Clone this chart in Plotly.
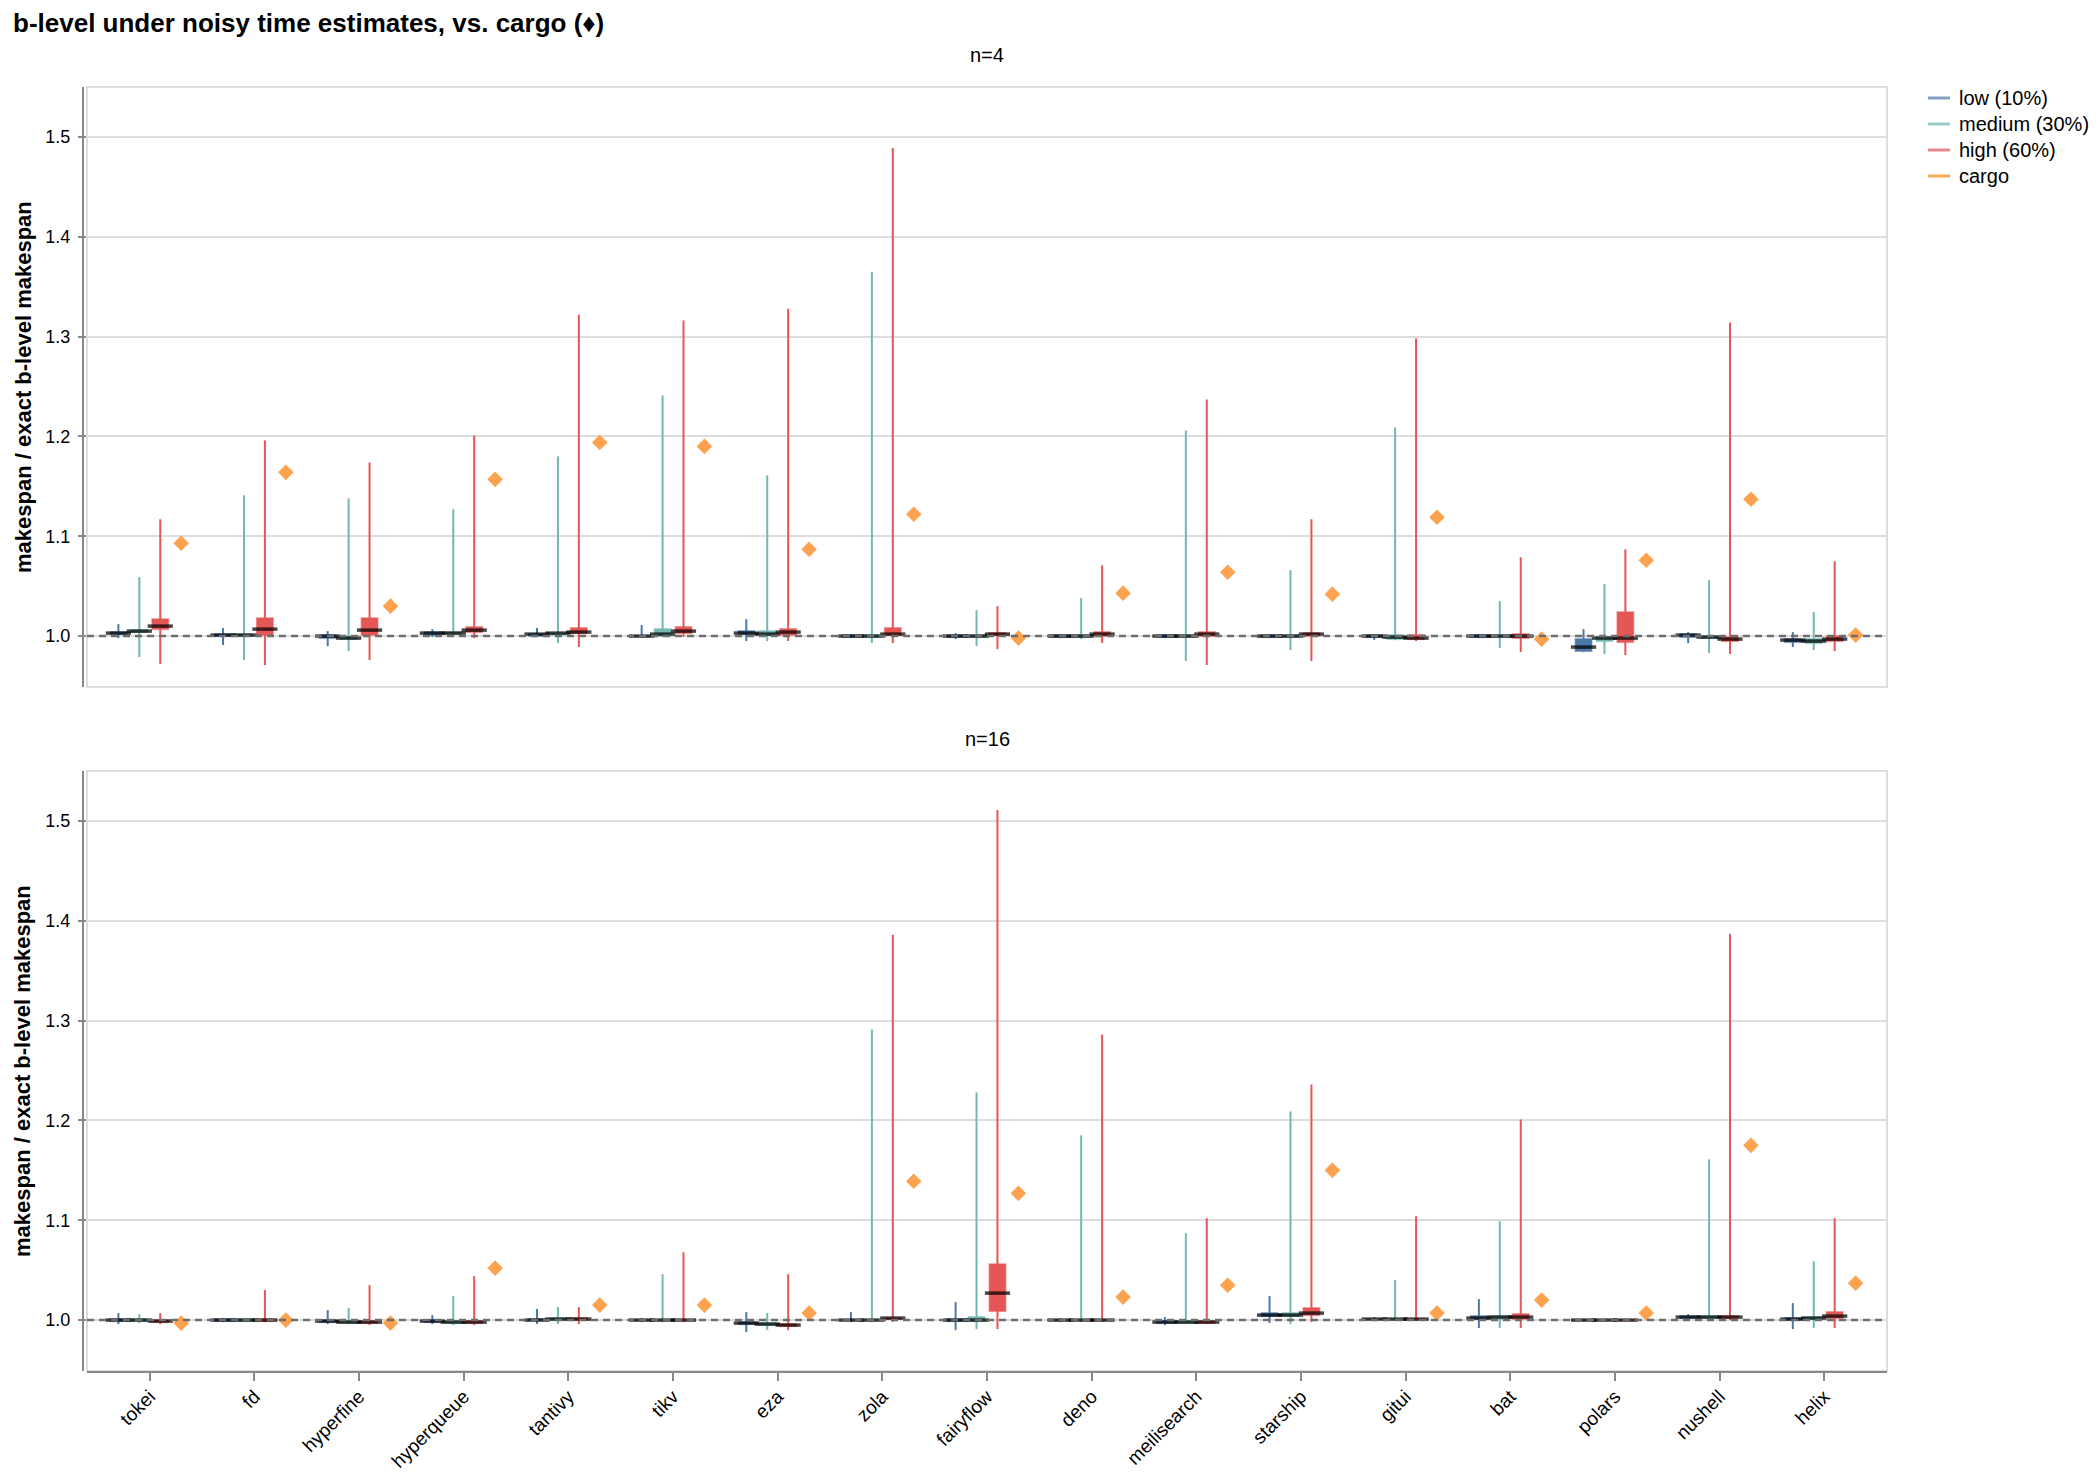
import plotly.graph_objects as go

projects = ["tokei", "fd", "hyperfine", "hyperqueue", "tantivy", "tikv", "eza", "zola",
            "fairyflow", "deno", "meilisearch", "starship", "gitui", "bat", "polars",
            "nushell", "helix"]

levels = ["low (10%)", "medium (30%)", "high (60%)"]

# each entry: (whisker low, q1, median, q3, whisker high) of makespan / exact b-level makespan
n4_low = [(0.998, 1.001, 1.003, 1.005, 1.012), (0.991, 0.999, 1.001, 1.003, 1.008),
          (0.990, 0.997, 1.000, 1.002, 1.005), (0.999, 1.000, 1.003, 1.005, 1.007),
          (0.999, 0.999, 1.002, 1.003, 1.008), (0.999, 0.999, 1.000, 1.001, 1.011),
          (0.995, 1.001, 1.003, 1.006, 1.017), (0.998, 0.998, 1.000, 1.002, 1.002),
          (0.997, 0.998, 1.000, 1.002, 1.003), (0.998, 0.998, 1.000, 1.002, 1.002),
          (0.998, 0.998, 1.000, 1.002, 1.002), (0.998, 0.998, 1.000, 1.002, 1.002),
          (0.996, 0.998, 1.000, 1.002, 1.002), (0.998, 0.998, 1.000, 1.002, 1.002),
          (0.984, 0.984, 0.989, 0.998, 1.007), (0.993, 0.998, 1.001, 1.003, 1.004),
          (0.989, 0.993, 0.996, 0.998, 1.004)]
n4_medium = [(0.979, 1.003, 1.005, 1.007, 1.059), (0.976, 0.999, 1.001, 1.003, 1.141),
             (0.985, 0.996, 0.998, 1.001, 1.138), (1.000, 1.001, 1.003, 1.005, 1.127),
             (0.993, 1.000, 1.003, 1.004, 1.180), (0.999, 0.999, 1.002, 1.008, 1.241),
             (0.995, 1.000, 1.002, 1.006, 1.161), (0.993, 0.998, 1.000, 1.002, 1.365),
             (0.990, 0.998, 1.000, 1.002, 1.026), (0.997, 0.998, 1.000, 1.002, 1.038),
             (0.975, 0.998, 1.000, 1.002, 1.206), (0.986, 0.998, 1.000, 1.002, 1.066),
             (0.996, 0.996, 0.999, 1.002, 1.209), (0.988, 0.998, 1.000, 1.002, 1.035),
             (0.982, 0.994, 0.998, 1.000, 1.052), (0.983, 0.997, 0.999, 1.001, 1.056),
             (0.986, 0.992, 0.995, 0.998, 1.024)]
n4_high = [(0.972, 1.006, 1.010, 1.018, 1.117), (0.971, 1.000, 1.007, 1.019, 1.196),
           (0.976, 1.000, 1.006, 1.019, 1.174), (0.998, 1.003, 1.006, 1.010, 1.201),
           (0.989, 1.002, 1.004, 1.009, 1.322), (0.999, 1.002, 1.005, 1.010, 1.316),
           (0.995, 1.000, 1.004, 1.008, 1.328), (0.993, 1.000, 1.002, 1.009, 1.489),
           (0.987, 1.000, 1.002, 1.004, 1.030), (0.993, 0.999, 1.002, 1.005, 1.071),
           (0.971, 0.999, 1.002, 1.005, 1.237), (0.975, 0.999, 1.002, 1.004, 1.117),
           (0.995, 0.996, 0.998, 1.002, 1.298), (0.984, 0.997, 1.000, 1.003, 1.079),
           (0.981, 0.993, 0.998, 1.025, 1.087), (0.982, 0.994, 0.997, 1.000, 1.314),
           (0.985, 0.994, 0.997, 1.001, 1.075)]
n4_cargo = [1.093, 1.164, 1.030, 1.157, 1.194, 1.190, 1.087, 1.122, 0.998, 1.043,
            1.064, 1.042, 1.119, 0.997, 1.076, 1.137, 1.001]

n16_low = [(0.996, 0.998, 1.000, 1.002, 1.007), (0.998, 0.998, 1.000, 1.002, 1.002),
           (0.996, 0.997, 0.999, 1.001, 1.010), (0.996, 0.997, 0.999, 1.001, 1.005),
           (0.996, 0.999, 1.000, 1.002, 1.011), (0.998, 0.999, 1.000, 1.001, 1.002),
           (0.988, 0.995, 0.997, 0.999, 1.008), (0.998, 0.999, 1.000, 1.001, 1.008),
           (0.990, 0.998, 1.000, 1.002, 1.018), (0.998, 0.999, 1.000, 1.001, 1.002),
           (0.995, 0.996, 0.998, 1.000, 1.003), (0.997, 1.003, 1.005, 1.008, 1.024),
           (0.999, 1.000, 1.001, 1.002, 1.003), (0.992, 1.000, 1.002, 1.005, 1.021),
           (0.999, 0.999, 1.000, 1.001, 1.001), (1.000, 1.001, 1.003, 1.005, 1.006),
           (0.991, 0.999, 1.001, 1.003, 1.017)]
n16_medium = [(0.997, 0.998, 1.000, 1.002, 1.006), (0.998, 0.998, 1.000, 1.002, 1.002),
              (0.996, 0.996, 0.998, 1.000, 1.012), (0.995, 0.996, 0.998, 1.000, 1.024),
              (0.996, 0.999, 1.001, 1.003, 1.013), (0.998, 0.999, 1.000, 1.001, 1.046),
              (0.990, 0.994, 0.996, 0.998, 1.007), (0.998, 0.999, 1.000, 1.001, 1.291),
              (0.991, 0.998, 1.000, 1.004, 1.228), (0.998, 0.999, 1.000, 1.001, 1.185),
              (0.996, 0.996, 0.998, 1.000, 1.087), (0.996, 1.003, 1.005, 1.008, 1.209),
              (0.999, 1.000, 1.001, 1.002, 1.040), (0.992, 1.000, 1.003, 1.005, 1.099),
              (0.999, 0.999, 1.000, 1.001, 1.001), (1.000, 1.001, 1.003, 1.005, 1.161),
              (0.992, 1.000, 1.002, 1.004, 1.059)]
n16_high = [(0.996, 0.997, 0.999, 1.001, 1.007), (0.998, 0.998, 1.000, 1.002, 1.030),
            (0.995, 0.996, 0.998, 1.000, 1.035), (0.995, 0.996, 0.998, 1.000, 1.044),
            (0.996, 0.999, 1.001, 1.003, 1.013), (0.998, 0.999, 1.000, 1.001, 1.068),
            (0.990, 0.993, 0.995, 0.997, 1.046), (0.998, 1.000, 1.002, 1.003, 1.386),
            (0.991, 1.008, 1.027, 1.057, 1.511), (0.998, 0.999, 1.000, 1.001, 1.286),
            (0.996, 0.996, 0.998, 1.000, 1.102), (0.998, 1.004, 1.007, 1.013, 1.236),
            (0.999, 1.000, 1.001, 1.002, 1.104), (0.992, 1.000, 1.003, 1.007, 1.201),
            (0.999, 0.999, 1.000, 1.001, 1.001), (1.000, 1.001, 1.003, 1.005, 1.387),
            (0.992, 1.001, 1.004, 1.009, 1.102)]
n16_cargo = [0.997, 1.000, 0.997, 1.052, 1.015, 1.015, 1.007, 1.139, 1.127, 1.023,
             1.035, 1.150, 1.007, 1.020, 1.007, 1.175, 1.037]

colors = ["#4c78a8", "#72b7b2", "#e45756"]
cargo_color = "#fda350"
legend_colors = ["rgba(76,120,168,0.7)", "rgba(114,183,178,0.7)", "rgba(228,87,86,0.7)",
                 "rgba(245,133,24,0.7)"]
offsets = [-0.3, -0.1, 0.1]
cargo_offset = 0.3
box_w = 0.172
FONT = "Liberation Sans, Arial, sans-serif"

# plot area in page pixels (left, top, width, height)
PL, PT, PW, PH = 87, 87, 1800, 1284

fig = go.Figure()


def add_panel(stats_by_level, cargo, xa, ya):
    for stats, color, off in zip(stats_by_level, colors, offsets):
        xs = [i + off for i in range(len(projects))]
        wx, wy = [], []
        for x, s in zip(xs, stats):
            wx += [x, x, None]
            wy += [s[0], s[4], None]
        fig.add_trace(go.Scatter(x=wx, y=wy, mode="lines", line=dict(color=color, width=2),
                                 xaxis=xa, yaxis=ya, hoverinfo="skip"))
        fig.add_trace(go.Bar(x=xs, y=[s[3] - s[1] for s in stats], base=[s[1] for s in stats],
                             width=box_w, marker=dict(color=color,
                                                      line=dict(color="rgba(255,255,255,0.45)", width=1.5)),
                             xaxis=xa, yaxis=ya))
        fig.add_trace(go.Scatter(x=xs, y=[s[2] for s in stats], mode="markers",
                                 marker=dict(symbol="line-ew", size=18,
                                             line=dict(color="rgba(0,0,0,0.72)", width=3.5)),
                                 xaxis=xa, yaxis=ya))
    fig.add_trace(go.Scatter(x=[i + cargo_offset for i in range(len(projects))], y=cargo,
                             mode="markers", marker=dict(symbol="diamond", size=12, color=cargo_color),
                             xaxis=xa, yaxis=ya))


add_panel([n4_low, n4_medium, n4_high], n4_cargo, "x", "y")
add_panel([n16_low, n16_medium, n16_high], n16_cargo, "x2", "y2")

yticks = [1.0, 1.1, 1.2, 1.3, 1.4, 1.5]
yax = dict(range=[0.949, 1.55], tickvals=yticks, tickformat=".1f", showgrid=True,
           gridcolor="#dddddd", gridwidth=2, zeroline=False, ticks="outside", ticklen=8,
           tickwidth=2, tickcolor="#888888", tickfont=dict(size=18, color="#000"),
           ticklabelstandoff=4, showline=False, automargin=False)
xax = dict(range=[-0.6, 16.6], showgrid=False, zeroline=False, automargin=False)

# the page adds 8px around the figure, so the figure is 16px smaller than the window
fig.update_layout(
    width=2084, height=1468,
    margin=dict(l=PL - 8, r=2084 - (PL - 8) - PW, t=PT - 8, b=1468 - (PT - 8) - PH, autoexpand=False),
    paper_bgcolor="white", plot_bgcolor="white",
    font=dict(family=FONT, size=20, color="#000"),
    barmode="overlay",
    showlegend=False,
    xaxis=dict(xax, anchor="y", showticklabels=False, ticks=""),
    yaxis=dict(yax, domain=[0.5327, 1.0], anchor="x"),
    xaxis2=dict(xax, anchor="y2", tickvals=list(range(len(projects))), ticktext=projects,
                tickangle=-45, ticks="outside", ticklen=8, tickwidth=2, tickcolor="#888888",
                showline=True, linecolor="#888888", linewidth=2, ticklabelstandoff=-3,
                tickfont=dict(size=19, color="#000")),
    yaxis2=dict(yax, domain=[0.0, 0.4673], anchor="x2"),
)


def px(x):
    return (x - PL) / PW


def py(y):
    return 1 - (y - PT) / PH


shapes = []
for xa, ya in [("x", "y"), ("x2", "y2")]:
    shapes.append(dict(type="rect", xref=f"{xa} domain", yref=f"{ya} domain", x0=0, x1=1, y0=0, y1=1,
                       line=dict(color="#dddddd", width=2), layer="below"))
    shapes.append(dict(type="line", xref=f"{xa} domain", yref=ya, x0=0, x1=1, y0=1.0, y1=1.0,
                       line=dict(color="#6e6e6e", width=2.5, dash="7px,5px"), layer="above"))
    shapes.append(dict(type="line", xref="paper", yref=f"{ya} domain", x0=px(83), x1=px(83),
                       y0=0, y1=1, line=dict(color="#888888", width=2)))

annotations = [
    dict(text="<b>b-level under noisy time estimates, vs. cargo (♦)</b>", xref="paper", yref="paper",
         x=px(11), y=py(23), xanchor="left", yanchor="middle", showarrow=False, font=dict(size=26)),
    dict(text="n=4", xref="paper", yref="paper", x=0.5, y=py(55),
         xanchor="center", yanchor="middle", showarrow=False, font=dict(size=20)),
    dict(text="n=16", xref="paper", yref="paper", x=0.5, y=py(739),
         xanchor="center", yanchor="middle", showarrow=False, font=dict(size=20)),
]
for ya in ["y", "y2"]:
    annotations.append(dict(text="<b>makespan / exact b-level makespan</b>", xref="paper",
                            yref=f"{ya} domain", x=px(23), y=0.5, xanchor="center",
                            yanchor="middle", textangle=-90, showarrow=False, font=dict(size=22)))

# legend: stroke symbols with labels
for k, (name, color) in enumerate(zip(levels + ["cargo"], legend_colors)):
    yc = 98 + 26 * k
    shapes.append(dict(type="line", xref="paper", yref="paper", x0=px(1928), x1=px(1950),
                       y0=py(yc), y1=py(yc), line=dict(color=color, width=3)))
    annotations.append(dict(text=name, xref="paper", yref="paper", x=px(1957), y=py(yc),
                            xanchor="left", yanchor="middle", showarrow=False, font=dict(size=20)))

fig.update_layout(shapes=shapes, annotations=annotations)

fig.write_html("out.html")
